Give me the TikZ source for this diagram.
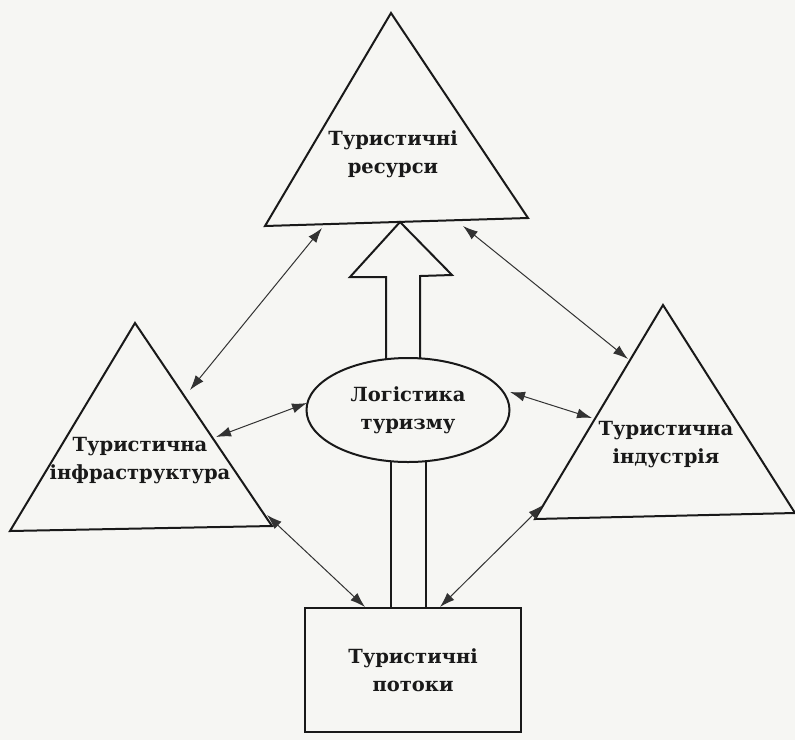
\documentclass[tikz,border=0pt]{standalone}
\usepackage{fontspec}
\setmainfont{DejaVu Serif}
\usetikzlibrary{arrows.meta,shapes.geometric}
\definecolor{paper}{RGB}{246,246,243}
\definecolor{ink}{RGB}{25,25,25}
\definecolor{thinink}{RGB}{50,50,50}
\tikzset{
  shapeline/.style={draw=ink,line width=2pt,line join=miter},
  txt/.style={font=\fontsize{19.5}{28}\selectfont\bfseries,text=ink,align=center,inner sep=0pt},
  link/.style={draw=thinink,line width=1pt,{Latex[length=15pt,width=10pt]}-{Latex[length=15pt,width=10pt]}},
}
\begin{document}
\begin{tikzpicture}[x=1pt,y=-1pt]
  \fill[paper] (0,0) rectangle (795,740);
  \useasboundingbox (0,0) rectangle (795,740);

  % triangles
  \draw[shapeline] (391,13) -- (528,218) -- (265,226) -- cycle;
  \draw[shapeline] (135,323) -- (272,526) -- (10,531) -- cycle;
  \draw[shapeline] (663,305) -- (795,513) -- (535,519) -- cycle;

  \node[txt] (res) at (393,154) {Туристичні\\ресурси};
  \node[txt] (inf) at (140,461) {Туристична\\інфраструктура};
  \node[txt] (ind) at (666,445) {Туристична\\індустрія};

  % central ellipse and bottom box
  \node[shapeline,ellipse,minimum width=203pt,minimum height=104pt,inner sep=0pt,
        fill=paper,txt] (log) at (408,410) {Логістика\\туризму};
  \node[shapeline,rectangle,minimum width=216pt,minimum height=124pt,inner sep=0pt,
        txt] (flow) at (413,670) {Туристичні\\потоки};

  % hollow block arrow from the ellipse up to the resources
  \draw[shapeline,line join=miter]
    (386,359) -- (386,277) -- (350,277) -- (400,222) -- (452,275) -- (420,276) -- (420,359);

  % double line from the box up to the ellipse
  \draw[shapeline] (391,608) -- (391,461);
  \draw[shapeline] (426,608) -- (426,461);

  % end points of the links
  \coordinate (a1) at (322,228); \coordinate (b1) at (190,390);
  \coordinate (a2) at (463,226); \coordinate (b2) at (628,359);
  \coordinate (a3) at (307,403); \coordinate (b3) at (216,437);
  \coordinate (a4) at (510,392); \coordinate (b4) at (592,418);
  \coordinate (a5) at (267,515); \coordinate (b5) at (365,607);
  \coordinate (a6) at (543,505); \coordinate (b6) at (440,607);

  \draw[link] (a1) -- (b1);
  \draw[link] (a2) -- (b2);
  \draw[link] (a3) -- (b3);
  \draw[link] (a4) -- (b4);
  \draw[link] (a5) -- (b5);
  \draw[link] (a6) -- (b6);
\end{tikzpicture}
\end{document}
